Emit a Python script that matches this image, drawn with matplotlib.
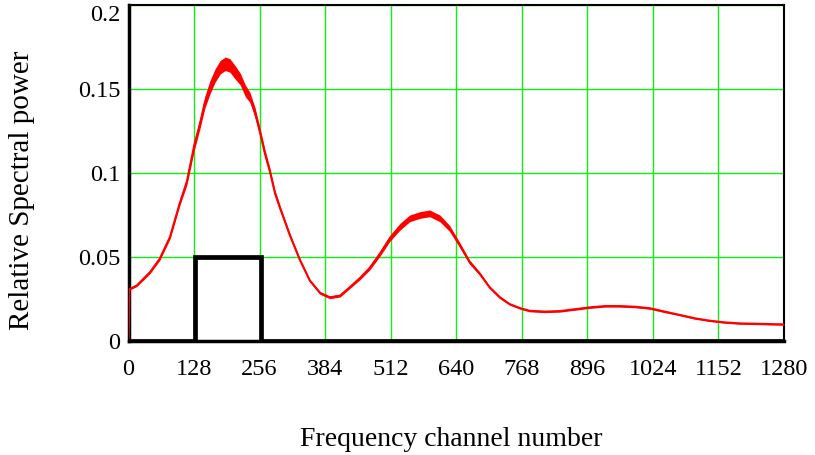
import numpy as np
import matplotlib
matplotlib.use("Agg")
import matplotlib.pyplot as plt

# red spectrum (channel, relative power, half-width of noise band)
channel = [0, 2, 16, 42, 61, 81, 100, 114, 120, 128, 140, 149, 159, 169, 179, 189,
           198, 208, 218, 228, 237, 247, 257, 266, 276, 286, 296, 315, 335, 354,
           374, 393, 413, 432, 452, 471, 491, 510, 530, 549, 569, 588, 608, 627,
           647, 666, 686, 705, 725, 744, 764, 783, 813, 842, 871, 900, 930, 959,
           989, 1018, 1047, 1077, 1106, 1135, 1164, 1193, 1223, 1250, 1280]
power = [0.0, 0.031, 0.033, 0.041, 0.049, 0.062, 0.082, 0.095, 0.104, 0.116, 0.130,
         0.142, 0.151, 0.158, 0.163, 0.165, 0.164, 0.160, 0.156, 0.149, 0.145,
         0.136, 0.124, 0.112, 0.101, 0.088, 0.079, 0.063, 0.048, 0.036, 0.0286,
         0.026, 0.027, 0.032, 0.0375, 0.0435, 0.052, 0.061, 0.068, 0.073, 0.075,
         0.076, 0.073, 0.067, 0.057, 0.047, 0.040, 0.032, 0.026, 0.022, 0.0196,
         0.018, 0.0175, 0.0178, 0.0189, 0.020, 0.0208, 0.0208, 0.0204, 0.0195,
         0.0175, 0.0155, 0.0135, 0.0121, 0.0111, 0.0105, 0.0103, 0.0101, 0.0099]
noise = [0.0, 0.0006, 0.0006, 0.0008, 0.001, 0.0012, 0.0015, 0.002, 0.0025, 0.003, 0.003,
         0.0035, 0.004, 0.004, 0.004, 0.004, 0.004, 0.004, 0.0035, 0.0035, 0.003,
         0.003, 0.0025, 0.0025, 0.002, 0.0018, 0.0015, 0.0012, 0.001, 0.0008, 0.0008,
         0.0008, 0.0008, 0.0008, 0.001, 0.0012, 0.0015, 0.0018, 0.002, 0.002, 0.002,
         0.002, 0.002, 0.0018, 0.0015, 0.0012, 0.001, 0.0008, 0.0008, 0.0006, 0.0006,
         0.0006, 0.0006, 0.0006, 0.0006, 0.0006, 0.0006, 0.0006, 0.0006, 0.0006, 0.0006,
         0.0005, 0.0005, 0.0005, 0.0005, 0.0005, 0.0005, 0.0005, 0.0005]

# black passband window
win_ch = [0, 130, 130, 258, 258, 1280]
win_val = [0, 0, 0.05, 0.05, 0, 0]

xticks = [0, 128, 256, 384, 512, 640, 768, 896, 1024, 1152, 1280]
yticks = [0, 0.05, 0.1, 0.15, 0.2]
ytick_labels = ["0", "0.05", "0.1", "0.15", "0.2"]

plt.rcParams['font.family'] = ['Liberation Serif', 'DejaVu Serif']

fig = plt.figure(figsize=(8.15, 4.55), dpi=100)
ax = fig.add_axes([0.1577, 0.2505, 0.8043, 0.7385])

ch = np.array(channel)
pw = np.array(power)
nz = np.array(noise)
ax.fill_between(ch, pw - nz, pw + nz, color='red', lw=0, zorder=3)
ax.plot(ch, pw, color='red', lw=1.5, zorder=3)
ax.plot(win_ch, win_val, color='black', lw=3.4, zorder=4, solid_joinstyle='miter')

ax.set_xlim(0, 1280)
ax.set_ylim(0, 0.2)
ax.set_xticks(xticks)
ax.set_yticks(yticks)
ax.set_yticklabels(ytick_labels)
ax.grid(True, color='#11ee11', lw=1.0, zorder=1)
ax.set_axisbelow(True)
ax.tick_params(length=0, labelsize=17.5)
ax.tick_params(axis='x', pad=13)
ax.tick_params(axis='y', pad=6)
ax.get_yticklabels()[-1].set_va('top')

for side in ['top', 'right']:
    ax.spines[side].set_linewidth(1.5)
for side in ['left', 'bottom']:
    ax.spines[side].set_linewidth(2.5)

ax.set_xlabel("Frequency channel number", fontsize=20)
ax.set_ylabel("Relative Spectral power", fontsize=21)
ax.xaxis.set_label_coords(0.492, -0.255)
ax.yaxis.set_label_coords(-0.142, 0.45)

fig.savefig("out.png", dpi=100)
